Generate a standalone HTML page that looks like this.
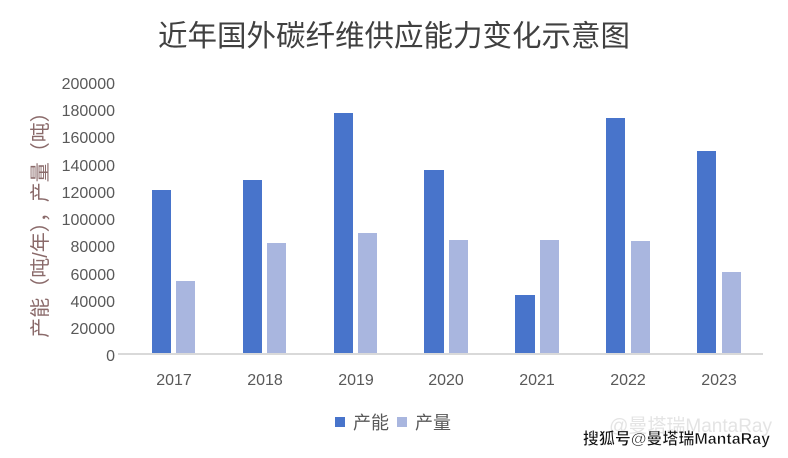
<!DOCTYPE html>
<html><head><meta charset="utf-8"><style>
body{margin:0;background:#fff;}
svg text{font-family:"Liberation Sans","Noto Sans CJK SC",sans-serif;}
</style></head><body>
<svg width="788" height="453" viewBox="0 0 788 453" xmlns="http://www.w3.org/2000/svg">
<rect width="788" height="453" fill="#fff"/>
<text x="394" y="46" font-size="29.5" fill="#404040" text-anchor="middle" font-family="Noto Sans CJK SC, sans-serif">近年国外碳纤维供应能力变化示意图</text>
<g font-size="16" fill="#595959" text-anchor="end">
<text x="115" y="89">200000</text>
<text x="115" y="116">180000</text>
<text x="115" y="143">160000</text>
<text x="115" y="171">140000</text>
<text x="115" y="198">120000</text>
<text x="115" y="225">100000</text>
<text x="115" y="252">80000</text>
<text x="115" y="280">60000</text>
<text x="115" y="307">40000</text>
<text x="115" y="334">20000</text>
<text x="115" y="361">0</text>
</g>
<text transform="translate(47,220) rotate(-90)" font-size="20" fill="#8a6a6a" text-anchor="middle" font-family="Noto Sans CJK SC, sans-serif">产能（吨/年），产量（吨）</text>
<g fill="#4874CB">
<rect x="152" y="190" width="19" height="164"/>
<rect x="243" y="180" width="19" height="174"/>
<rect x="334" y="113" width="19" height="241"/>
<rect x="424" y="170" width="20" height="184"/>
<rect x="515" y="295" width="20" height="59"/>
<rect x="606" y="118" width="19" height="236"/>
<rect x="697" y="151" width="19" height="203"/>
</g>
<g fill="#A9B6DF">
<rect x="176" y="281" width="19" height="73"/>
<rect x="267" y="243" width="19" height="111"/>
<rect x="358" y="233" width="19" height="121"/>
<rect x="449" y="240" width="19" height="114"/>
<rect x="540" y="240" width="19" height="114"/>
<rect x="631" y="241" width="19" height="113"/>
<rect x="722" y="272" width="19" height="82"/>
</g>
<rect x="118" y="353" width="645" height="2" fill="#d9d9d9"/>
<g font-size="16" fill="#595959" text-anchor="middle">
<text x="174" y="385">2017</text>
<text x="265" y="385">2018</text>
<text x="356" y="385">2019</text>
<text x="446" y="385">2020</text>
<text x="537" y="385">2021</text>
<text x="628" y="385">2022</text>
<text x="719" y="385">2023</text>
</g>
<rect x="335" y="417" width="10" height="10" fill="#4874CB"/>
<text x="353" y="429" font-size="18" fill="#595959" font-family="Noto Sans CJK SC, sans-serif">产能</text>
<rect x="397" y="417" width="10" height="10" fill="#A9B6DF"/>
<text x="415" y="429" font-size="18" fill="#595959" font-family="Noto Sans CJK SC, sans-serif">产量</text>
<text x="772" y="432" font-size="19" fill="#e4e4e4" text-anchor="end" font-family="Noto Sans CJK SC, sans-serif">@曼塔瑞MantaRay</text>
<text x="770" y="444" font-size="16" fill="#111" font-weight="bold" text-anchor="end" font-family="Noto Sans CJK SC, sans-serif" stroke="#fff" stroke-width="0.5">搜狐号@曼塔瑞MantaRay</text>
</svg>
</body></html>
